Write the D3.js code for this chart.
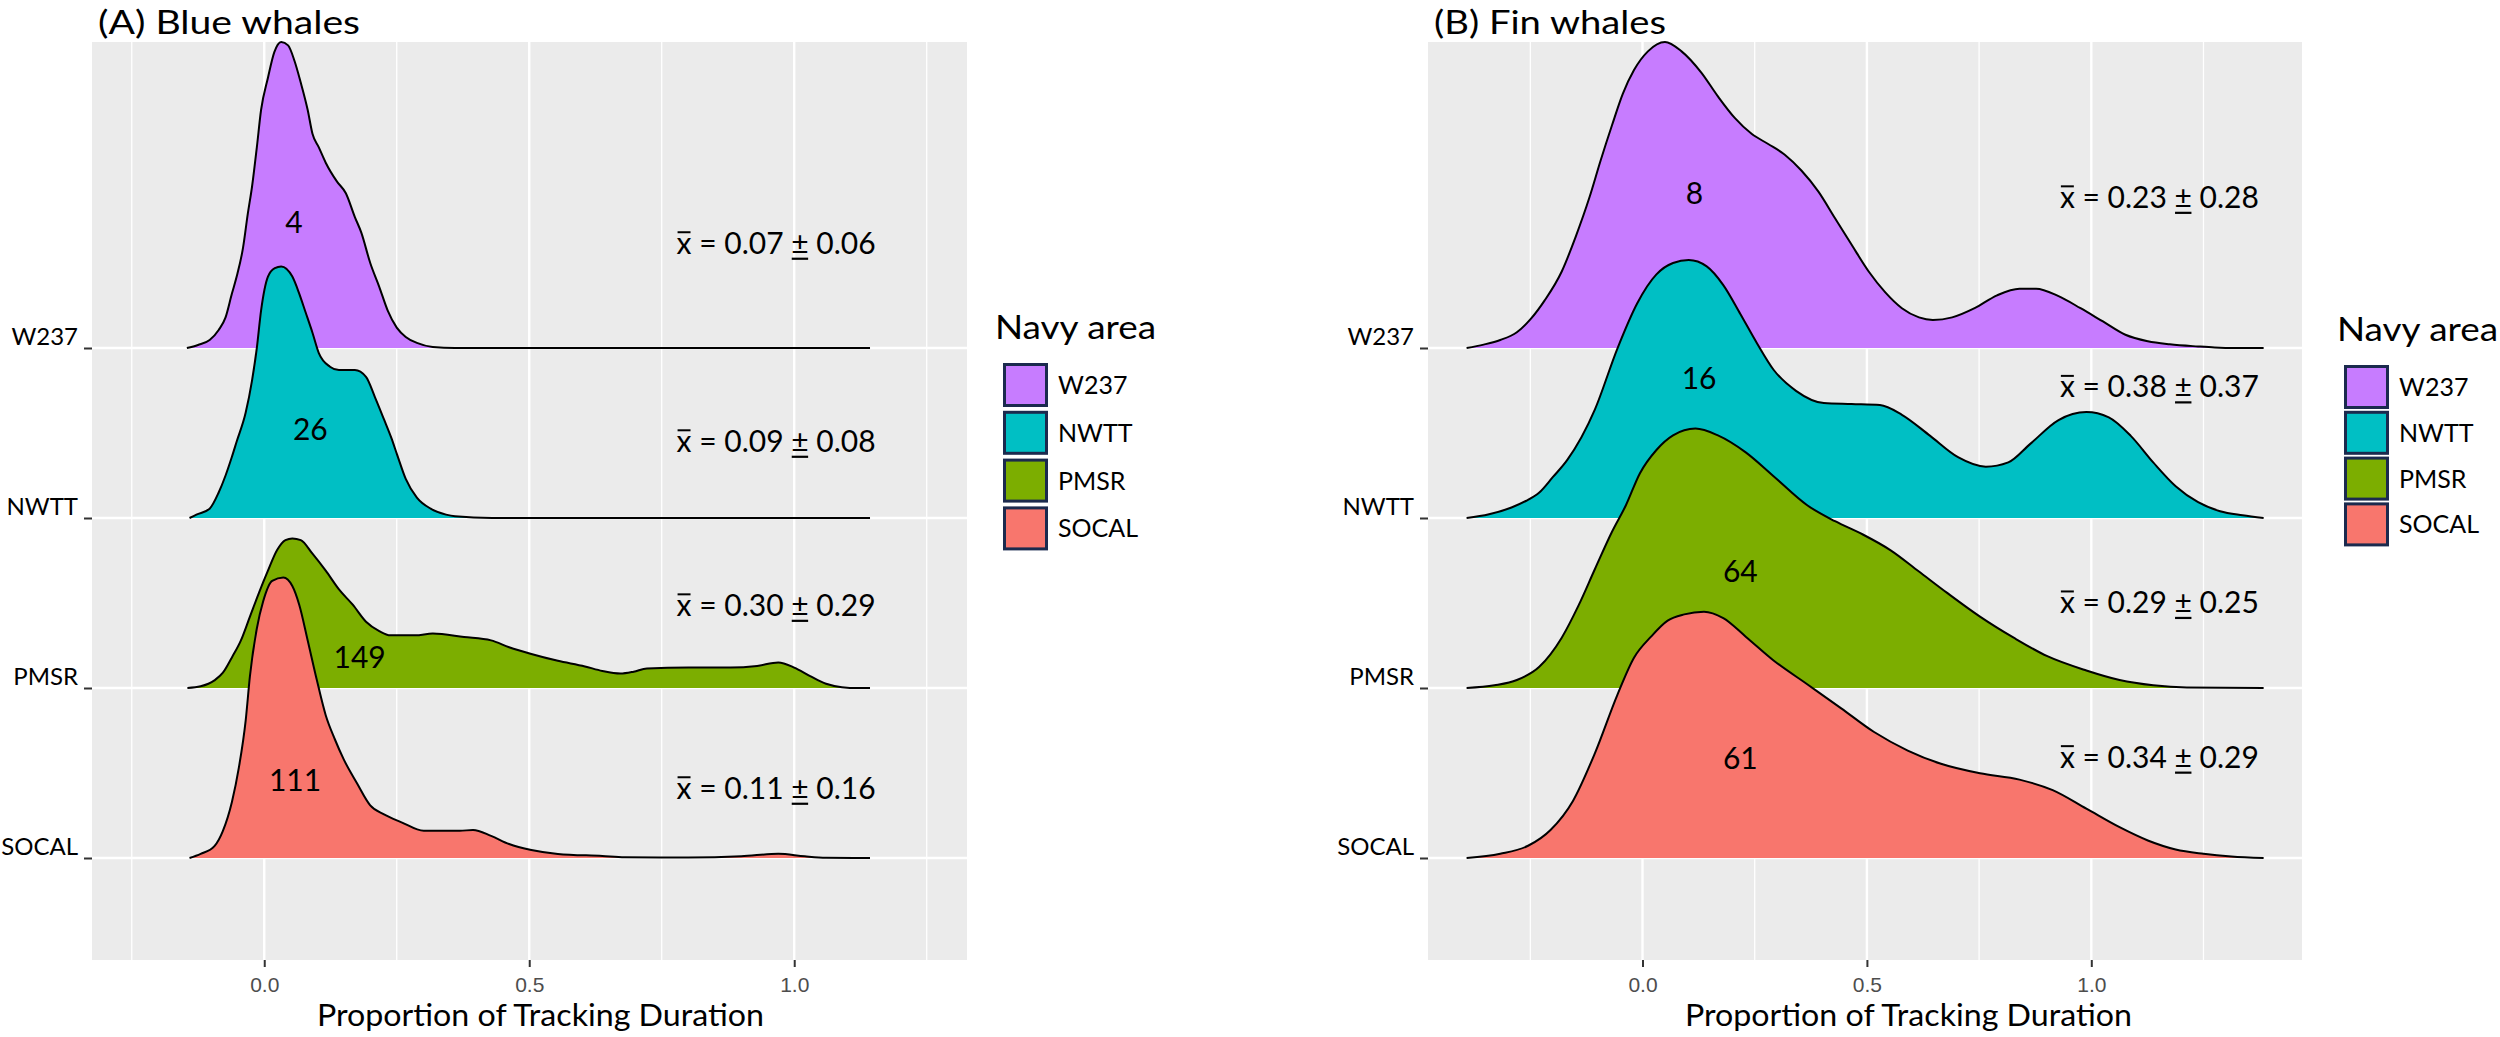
<!DOCTYPE html>
<html>
<head>
<meta charset="utf-8">
<script src="https://cdn.jsdelivr.net/npm/d3@7"></script>
<style>
    body { margin: 0; background: #fff; }
    text { font-family: Lato, "Open Sans", sans-serif; fill: #000; }
    .x-axis text { font-family: "Liberation Sans", Arial, sans-serif; fill: #4d4d4d; }
</style>
</head>
<body>
<div id="chart-area"></div>
<script>
// categories, top ridge first
var areas = ["W237", "NWTT", "PMSR", "SOCAL"];
var areaColors = ["#C77CFF", "#00BFC4", "#7CAE00", "#F8766D"];
var xTicks = [0, 0.5, 1.0];
var xMinorTicks = [-0.25, 0.25, 0.75, 1.25];

// density ridges, [proportion, height in ridge units]
var blueW237 = [[-0.146,0],[-0.125,0.018],[-0.103,0.047],[-0.086,0.106],[-0.073,0.18],[-0.061,0.32],[-0.052,0.42],
    [-0.040,0.59],[-0.031,0.79],[-0.023,0.95],[-0.014,1.18],[-0.006,1.40],[0.007,1.59],[0.019,1.74],[0.032,1.80],
    [0.045,1.78],[0.057,1.69],[0.069,1.56],[0.082,1.40],[0.091,1.26],[0.103,1.18],[0.116,1.09],[0.137,0.98],
    [0.154,0.91],[0.171,0.77],[0.183,0.68],[0.200,0.50],[0.217,0.36],[0.233,0.22],[0.250,0.12],[0.267,0.065],
    [0.288,0.03],[0.318,0.006],[0.36,0],[1.143,0]];
var blueNWTT = [[-0.141,0],[-0.128,0.02],[-0.103,0.055],[-0.086,0.15],[-0.073,0.25],[-0.061,0.36],[-0.052,0.45],
    [-0.035,0.62],[-0.023,0.81],[-0.014,1.0],[-0.006,1.22],[0.007,1.42],[0.020,1.47],[0.032,1.48],[0.053,1.42],
    [0.066,1.32],[0.078,1.21],[0.091,1.09],[0.103,0.97],[0.124,0.89],[0.141,0.87],[0.171,0.87],[0.192,0.83],
    [0.209,0.71],[0.226,0.58],[0.240,0.47],[0.251,0.37],[0.267,0.23],[0.288,0.12],[0.314,0.055],[0.343,0.02],
    [0.36,0.01],[0.43,0],[1.143,0]];
var bluePMSR = [[-0.145,0],[-0.12,0.01],[-0.094,0.045],[-0.078,0.09],[-0.061,0.18],[-0.044,0.28],[-0.027,0.42],
    [-0.010,0.56],[0.007,0.69],[0.024,0.81],[0.040,0.87],[0.053,0.88],[0.069,0.87],[0.091,0.79],[0.116,0.69],
    [0.141,0.58],[0.167,0.49],[0.192,0.39],[0.217,0.335],[0.238,0.31],[0.285,0.31],[0.318,0.32],[0.377,0.30],
    [0.428,0.28],[0.462,0.24],[0.504,0.20],[0.554,0.16],[0.605,0.127],[0.638,0.10],[0.672,0.085],[0.697,0.096],
    [0.722,0.115],[0.80,0.12],[0.88,0.12],[0.93,0.13],[0.97,0.15],[1.00,0.12],[1.03,0.07],[1.06,0.025],
    [1.09,0.005],[1.12,0],[1.143,0]];
var blueSOCAL = [[-0.141,0],[-0.12,0.024],[-0.094,0.07],[-0.078,0.16],[-0.061,0.33],[-0.048,0.53],[-0.035,0.81],
    [-0.027,1.07],[-0.014,1.35],[-0.002,1.51],[0.015,1.63],[0.036,1.65],[0.053,1.60],[0.066,1.49],[0.082,1.28],
    [0.099,1.05],[0.116,0.84],[0.133,0.70],[0.150,0.58],[0.175,0.44],[0.200,0.31],[0.226,0.256],[0.259,0.21],
    [0.301,0.16],[0.369,0.16],[0.394,0.165],[0.428,0.13],[0.462,0.082],[0.504,0.047],[0.554,0.024],[0.638,0.012],
    [0.68,0.005],[0.80,0.003],[0.90,0.01],[0.97,0.025],[1.02,0.01],[1.06,0.002],[1.143,0]];

var finW237 = [[-0.392,0],[-0.354,0.02],[-0.317,0.047],[-0.280,0.093],[-0.249,0.171],[-0.218,0.28],[-0.180,0.45],
    [-0.149,0.654],[-0.118,0.888],[-0.093,1.106],[-0.068,1.31],[-0.044,1.495],[-0.019,1.635],[0.012,1.745],
    [0.050,1.80],[0.087,1.745],[0.131,1.62],[0.168,1.48],[0.205,1.355],[0.243,1.26],[0.280,1.20],[0.317,1.137],
    [0.354,1.044],[0.392,0.92],[0.429,0.763],[0.466,0.607],[0.504,0.45],[0.541,0.327],[0.578,0.234],[0.616,0.18],
    [0.647,0.165],[0.690,0.18],[0.740,0.234],[0.790,0.31],[0.840,0.349],[0.877,0.349],[0.927,0.305],[0.976,0.234],
    [1.026,0.156],[1.076,0.078],[1.126,0.04],[1.175,0.022],[1.238,0.009],[1.275,0.003],[1.32,0],[1.384,0]];
var finNWTT = [[-0.392,0],[-0.342,0.022],[-0.292,0.062],[-0.26,0.10],[-0.23,0.15],[-0.20,0.24],[-0.168,0.34],
    [-0.106,0.639],[-0.056,0.997],[-0.012,1.262],[0.031,1.433],[0.068,1.50],[0.103,1.517],[0.143,1.48],[0.180,1.37],
    [0.218,1.20],[0.255,1.028],[0.292,0.872],[0.342,0.748],[0.404,0.676],[0.466,0.67],[0.529,0.664],[0.578,0.607],
    [0.641,0.483],[0.703,0.358],[0.765,0.302],[0.815,0.327],[0.864,0.436],[0.927,0.576],[0.989,0.623],[1.039,0.592],
    [1.088,0.483],[1.138,0.327],[1.188,0.187],[1.238,0.093],[1.287,0.04],[1.337,0.016],[1.384,0]];
var finPMSR = [[-0.392,0],[-0.33,0.016],[-0.280,0.047],[-0.230,0.125],[-0.180,0.296],[-0.143,0.483],[-0.106,0.70],
    [-0.068,0.919],[-0.037,1.075],[-0.006,1.262],[0.031,1.40],[0.068,1.486],[0.118,1.526],[0.168,1.486],[0.230,1.386],
    [0.292,1.246],[0.367,1.075],[0.429,0.981],[0.491,0.903],[0.553,0.81],[0.616,0.685],[0.678,0.561],[0.752,0.42],
    [0.827,0.296],[0.902,0.187],[0.989,0.103],[1.063,0.047],[1.138,0.016],[1.213,0.003],[1.384,0]];
var finSOCAL = [[-0.392,0],[-0.317,0.025],[-0.255,0.072],[-0.205,0.165],[-0.155,0.336],[-0.106,0.617],[-0.056,0.96],
    [-0.019,1.178],[0.019,1.302],[0.056,1.396],[0.093,1.433],[0.137,1.449],[0.180,1.411],[0.230,1.302],[0.292,1.162],
    [0.367,1.022],[0.442,0.882],[0.516,0.741],[0.591,0.632],[0.665,0.554],[0.752,0.498],[0.840,0.461],[0.914,0.399],
    [0.989,0.29],[1.063,0.181],[1.126,0.103],[1.188,0.05],[1.250,0.025],[1.312,0.009],[1.384,0]];

// annotations per ridge (W237, NWTT, PMSR, SOCAL)
var blueCounts = ["4", "26", "149", "111"];
var blueCountX = [0.056, 0.087, 0.180, 0.058];
var blueCountY = [0.74, 0.52, 0.18, 0.46];
var blueMeans = ["0.07", "0.09", "0.30", "0.11"];
var blueSDs = ["0.06", "0.08", "0.29", "0.16"];
var blueMeanY = [0.618, 0.453, 0.488, 0.412];

var finCounts = ["8", "16", "64", "61"];
var finCountX = [0.116, 0.126, 0.218, 0.218];
var finCountY = [0.91, 0.82, 0.69, 0.586];
var finMeans = ["0.23", "0.38", "0.29", "0.34"];
var finSDs = ["0.28", "0.37", "0.25", "0.29"];
var finMeanY = [0.888, 0.773, 0.505, 0.595];

var svg = d3.select("#chart-area")
    .append("svg")
    .attr("width", 2500)
    .attr("height", 1037);

// ridge positions: SOCAL = 1 ... W237 = 4
var y = d3.scaleLinear().domain([0.4, 5.8]).range([960, 42]);
var ridgeOf = function (i) { return areas.length - i; };
var yCat = d3.scalePoint().domain(areas).range([y(4), y(1)]);

function drawPanel(p) {
    var x = d3.scaleLinear().domain(p.xDomain).range([p.left, p.right]);
    var top = y.range()[1], bottom = y.range()[0];
    var g = svg.append("g");

    g.append("rect")
        .attr("x", p.left).attr("y", top)
        .attr("width", p.right - p.left).attr("height", bottom - top)
        .attr("fill", "#ebebeb");

    g.selectAll(".minor").data(xMinorTicks).enter().append("line")
        .attr("x1", d => x(d)).attr("x2", d => x(d))
        .attr("y1", top).attr("y2", bottom)
        .attr("stroke", "#fff").attr("stroke-width", 1.3);
    g.selectAll(".major").data(xTicks).enter().append("line")
        .attr("x1", d => x(d)).attr("x2", d => x(d))
        .attr("y1", top).attr("y2", bottom)
        .attr("stroke", "#fff").attr("stroke-width", 2.4);
    g.selectAll(".hgrid").data(areas).enter().append("line")
        .attr("x1", p.left).attr("x2", p.right)
        .attr("y1", d => yCat(d)).attr("y2", d => yCat(d))
        .attr("stroke", "#fff").attr("stroke-width", 2.4);

    // ridges, top one first so the lower ones overlap it
    p.curves.forEach(function (c, i) {
        var base = ridgeOf(i);
        var area = d3.area().curve(d3.curveMonotoneX)
            .x(d => x(d[0])).y0(y(base)).y1(d => y(base + d[1]));
        var line = d3.line().curve(d3.curveMonotoneX)
            .x(d => x(d[0])).y(d => y(base + d[1]));
        g.append("path").datum(c).attr("d", area).attr("fill", areaColors[i]);
        g.append("path").datum(c).attr("d", line)
            .attr("fill", "none").attr("stroke", "#000").attr("stroke-width", 2);
    });

    // counts
    g.selectAll(".count").data(p.counts).enter().append("text")
        .attr("x", (d, i) => x(p.countX[i]))
        .attr("y", (d, i) => y(ridgeOf(i) + p.countY[i]))
        .attr("dy", "0.36em")
        .attr("text-anchor", "middle")
        .attr("font-size", "30px")
        .text(d => d);

    // mean +- sd, with bar over x and line under +-
    p.means.forEach(function (m, i) {
        var cy = y(ridgeOf(i) + p.meanY[i]);
        var base = cy + 10.8;
        var t = g.append("text")
            .attr("x", x(p.meanX)).attr("y", base)
            .attr("font-size", "30px")
            .text("x = " + m + " \u00b1 " + p.sds[i]);
        var node = t.node();
        var ex = node.getExtentOfChar(0);
        var pm = node.getExtentOfChar(t.text().indexOf("\u00b1"));
        g.append("line")
            .attr("x1", ex.x + 1).attr("x2", ex.x + ex.width - 1)
            .attr("y1", base - 21.5).attr("y2", base - 21.5)
            .attr("stroke", "#000").attr("stroke-width", 2);
        g.append("line")
            .attr("x1", pm.x + 0.5).attr("x2", pm.x + pm.width - 0.5)
            .attr("y1", base + 5).attr("y2", base + 5)
            .attr("stroke", "#000").attr("stroke-width", 2.2);
    });

    // axes
    var xAxisCall = d3.axisBottom(x).tickValues(xTicks)
        .tickFormat(d3.format(".1f")).tickSize(7).tickPadding(10);
    var xa = g.append("g")
        .attr("class", "x-axis")
        .attr("transform", "translate(0," + bottom + ")")
        .call(xAxisCall);
    xa.select(".domain").remove();
    xa.selectAll("line").attr("stroke", "#333").attr("stroke-width", 2);
    xa.selectAll("text").attr("font-size", "21px");

    var yAxisCall = d3.axisLeft(yCat).tickSize(8).tickPadding(6);
    var ya = g.append("g")
        .attr("class", "y-axis")
        .attr("transform", "translate(" + p.left + ",0)")
        .call(yAxisCall);
    ya.select(".domain").remove();
    ya.selectAll("line").attr("stroke", "#333").attr("stroke-width", 2);
    ya.selectAll("text")
        .attr("font-size", "24px")
        .attr("font-family", "Lato, sans-serif")
        .attr("fill", "#000")
        .attr("dy", "-0.14em");

    // titles
    g.append("text")
        .attr("x", p.left + 6).attr("y", 34)
        .attr("font-size", "33px")
        .attr("textLength", p.titleWidth).attr("lengthAdjust", "spacingAndGlyphs")
        .text(p.title);
    g.append("text")
        .attr("x", p.xTitleX).attr("y", 1026)
        .attr("font-size", "30px")
        .attr("textLength", 447).attr("lengthAdjust", "spacingAndGlyphs")
        .text("Proportion of Tracking Duration");

    // legend
    var lg = svg.append("g");
    lg.append("text")
        .attr("x", p.legendX).attr("y", p.legendTitleY)
        .attr("font-size", "32px")
        .attr("textLength", 161).attr("lengthAdjust", "spacingAndGlyphs")
        .text("Navy area");
    lg.selectAll("rect").data(areas).enter().append("rect")
        .attr("x", p.keyX + 1.5)
        .attr("y", (d, i) => p.keyTop + i * p.keyPitch + 1.5)
        .attr("width", 42).attr("height", 41)
        .attr("fill", (d, i) => areaColors[i])
        .attr("stroke", "#1b2a4e").attr("stroke-width", 3);
    lg.selectAll(".lab").data(areas).enter().append("text")
        .attr("x", p.keyX + 55)
        .attr("y", (d, i) => p.keyTop + i * p.keyPitch + 22)
        .attr("dy", "0.36em")
        .attr("font-size", "25px")
        .text(d => d);
}

drawPanel({
    left: 92, right: 967, xDomain: [-0.325, 1.326],
    curves: [blueW237, blueNWTT, bluePMSR, blueSOCAL],
    counts: blueCounts, countX: blueCountX, countY: blueCountY,
    means: blueMeans, sds: blueSDs, meanX: 0.778, meanY: blueMeanY,
    title: "(A) Blue whales", titleWidth: 262, xTitleX: 317,
    legendX: 995, legendTitleY: 339, keyX: 1003, keyTop: 363, keyPitch: 47.8
});

drawPanel({
    left: 1428, right: 2302, xDomain: [-0.478, 1.4695],
    curves: [finW237, finNWTT, finPMSR, finSOCAL],
    counts: finCounts, countX: finCountX, countY: finCountY,
    means: finMeans, sds: finSDs, meanX: 0.930, meanY: finMeanY,
    title: "(B) Fin whales", titleWidth: 232, xTitleX: 1685,
    legendX: 2337, legendTitleY: 341, keyX: 2344, keyTop: 365, keyPitch: 45.8
});
</script>
</body>
</html>
